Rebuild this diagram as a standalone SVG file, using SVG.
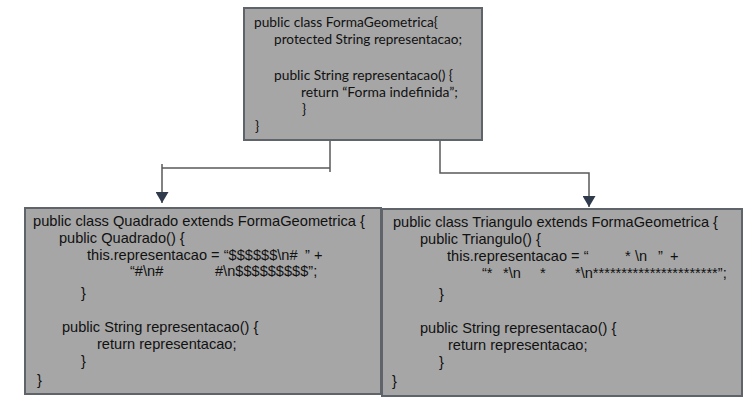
<svg xmlns="http://www.w3.org/2000/svg" width="753" height="402" viewBox="0 0 753 402">
<style>
.box{fill:#a6a6a6;stroke:#5f636a;stroke-width:2}
.top{font-family:Lato,"Open Sans",sans-serif;font-size:14px;fill:#111}
.code{font-family:"Liberation Sans",Arial,sans-serif;font-size:14.6px;fill:#111}
.conn{fill:none;stroke:#5a5a5a;stroke-width:1.5}
</style>
<defs>
<marker id="arr" viewBox="0 0 11 13" refX="11" refY="6.5" markerWidth="11" markerHeight="13" markerUnits="userSpaceOnUse" orient="auto">
<path d="M0,0 L11,6.5 L0,13 Z" fill="#2f3b4c"/>
</marker>
</defs>
<rect x="0" y="0" width="753" height="402" fill="#ffffff"/>
<g id="connectors">
<path class="conn" d="M330,140 V172 M330,168 H162 M162,164 V203" marker-end="url(#arr)"/>
<path class="conn" d="M440,140 V173 H589 V207" marker-end="url(#arr)"/>
</g>
<g id="FormaGeometrica">
<rect class="box" x="244" y="8" width="238" height="132"/>
<text class="top" x="254" y="27" textLength="184" lengthAdjust="spacingAndGlyphs">public class FormaGeometrica{</text>
<text class="top" x="274" y="44" textLength="188" lengthAdjust="spacingAndGlyphs">protected String representacao;</text>
<text class="top" x="274" y="80" textLength="179" lengthAdjust="spacingAndGlyphs">public String representacao() {</text>
<text class="top" x="301" y="97" textLength="157" lengthAdjust="spacingAndGlyphs">return “Forma indefinida”;</text>
<text class="top" x="302" y="114">}</text>
<text class="top" x="255" y="131">}</text>
</g>
<g id="Quadrado">
<rect class="box" x="25" y="208" width="356" height="186"/>
<text class="code" x="33" y="226" textLength="332" lengthAdjust="spacingAndGlyphs">public class Quadrado extends FormaGeometrica {</text>
<text class="code" x="59" y="243">public Quadrado() {</text>
<text class="code" y="260"><tspan x="87">this.representacao = “$$$$$$\n#</tspan><tspan x="305">” +</tspan></text>
<text class="code" y="276"><tspan x="130">“#\n#</tspan><tspan x="215">#\n$$$$$$$$$”;</tspan></text>
<text class="code" x="81" y="298">}</text>
<text class="code" x="62" y="332">public String representacao() {</text>
<text class="code" x="97" y="349">return representacao;</text>
<text class="code" x="81" y="366">}</text>
<text class="code" x="37" y="385">}</text>
</g>
<g id="Triangulo">
<rect class="box" x="382" y="209" width="360" height="187"/>
<text class="code" x="393" y="227" textLength="325" lengthAdjust="spacingAndGlyphs">public class Triangulo extends FormaGeometrica {</text>
<text class="code" x="420" y="244">public Triangulo() {</text>
<text class="code" y="261"><tspan x="447">this.representacao = “</tspan><tspan x="625">*</tspan><tspan x="635">\n</tspan><tspan x="658">”</tspan><tspan x="670">+</tspan></text>
<text class="code" y="278"><tspan x="482">“*</tspan><tspan x="503">*\n</tspan><tspan x="540">*</tspan><tspan x="575">*\n**********************”;</tspan></text>
<text class="code" x="439" y="299">}</text>
<text class="code" x="420" y="333">public String representacao() {</text>
<text class="code" x="448" y="350">return representacao;</text>
<text class="code" x="439" y="367">}</text>
<text class="code" x="392" y="386">}</text>
</g>
</svg>
